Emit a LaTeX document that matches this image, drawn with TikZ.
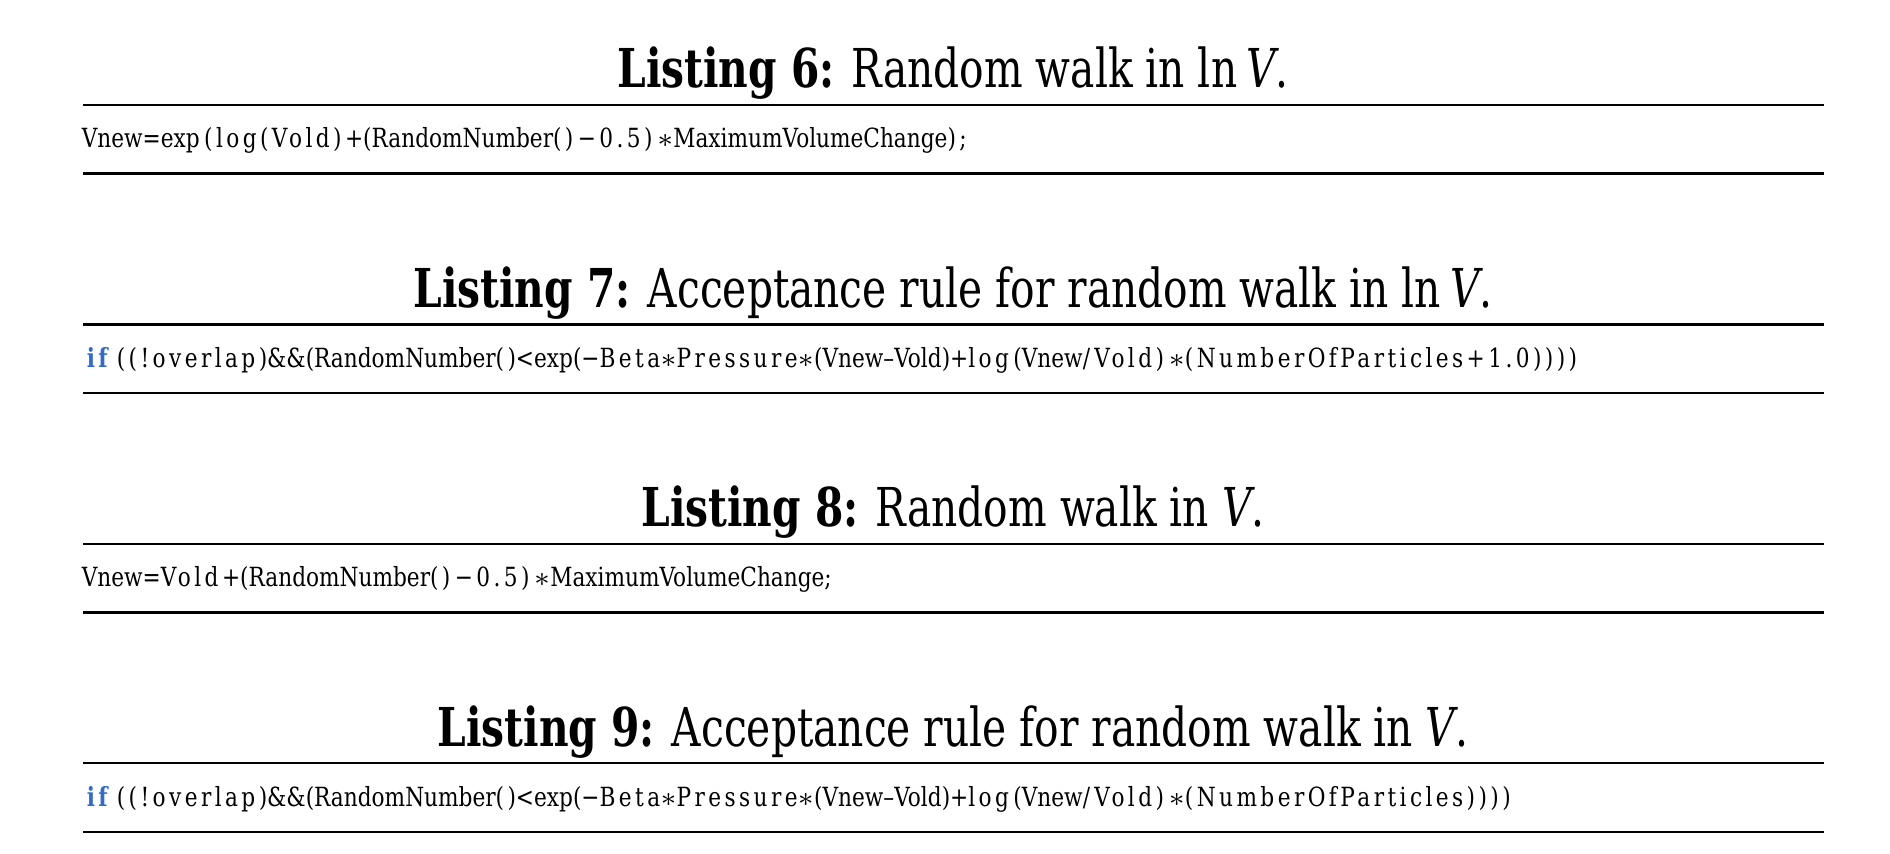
\documentclass[tikz,border=0pt]{standalone}
\usepackage{fontspec}
\setmainfont[FakeStretch=0.76]{DejaVu Serif}
\newfontfamily\codefont[FakeStretch=0.82]{DejaVu Serif}
\definecolor{kwc}{rgb}{0.2,0.42,0.78}
\newcommand{\lsp}[1]{{\addfontfeatures{LetterSpace=13}#1}}
\newcommand{\kw}[1]{\textcolor{kwc}{\textbf{\lsp{#1}}}}

\begin{document}
\begin{tikzpicture}[x=0.25pt, y=-0.25pt, caption/.style={anchor=base, inner sep=0pt, font=\fontsize{13.4}{16}\selectfont}, code/.style={anchor=base west, inner sep=0pt, font=\codefont\fontsize{6.6}{8}\selectfont}, rule/.style={line width=0.6pt}]

    \useasboundingbox (0,0) rectangle (1890,854);

    % the rules above and below each listing
    \foreach \y in {0,219.4,438.8,658.2} {
      \draw[rule] (83,105+\y) -- (1824,105+\y);
      \draw[rule] (83,173.6+\y) -- (1824,173.6+\y);
    }

    \node[caption] (cap6) at (953,88) {\textbf{Listing 6:} Random walk in ln\,\textit{V}.};
    \node[code] (code6) at (81,148) {Vnew=exp\,\lsp{(log(Vold)+}(RandomNumber\lsp{()}\,\lsp{−0.5)}\,$\ast$MaximumVolumeChange\lsp{);}};

    \node[caption] (cap7) at (953,307.4) {\textbf{Listing 7:} Acceptance rule for random walk in ln\,\textit{V}.};
    \node[code] (code7) at (86,367.4) {\kw{if}\,\lsp{((!overlap)}\&\&(RandomNumber\lsp{()}<exp(−\lsp{Beta}$\ast$\lsp{Pressure}$\ast$(Vnew–Vold)+\lsp{log}\,(Vnew/\,\lsp{Vold)}\,$\ast$\lsp{(NumberOfParticles+1.0))))}};

    \node[caption] (cap8) at (953,526.8) {\textbf{Listing 8:} Random walk in \textit{V}.};
    \node[code] (code8) at (81,586.8) {Vnew=\lsp{Vold+}(RandomNumber\lsp{()}\,\lsp{−0.5)}\,$\ast$MaximumVolumeChange\lsp{;}};

    \node[caption] (cap9) at (953,746.2) {\textbf{Listing 9:} Acceptance rule for random walk in \textit{V}.};
    \node[code] (code9) at (86,806.2) {\kw{if}\,\lsp{((!overlap)}\&\&(RandomNumber\lsp{()}<exp(−\lsp{Beta}$\ast$\lsp{Pressure}$\ast$(Vnew–Vold)+\lsp{log}\,(Vnew/\,\lsp{Vold)}\,$\ast$\lsp{(NumberOfParticles))))}};

\end{tikzpicture}
\end{document}
